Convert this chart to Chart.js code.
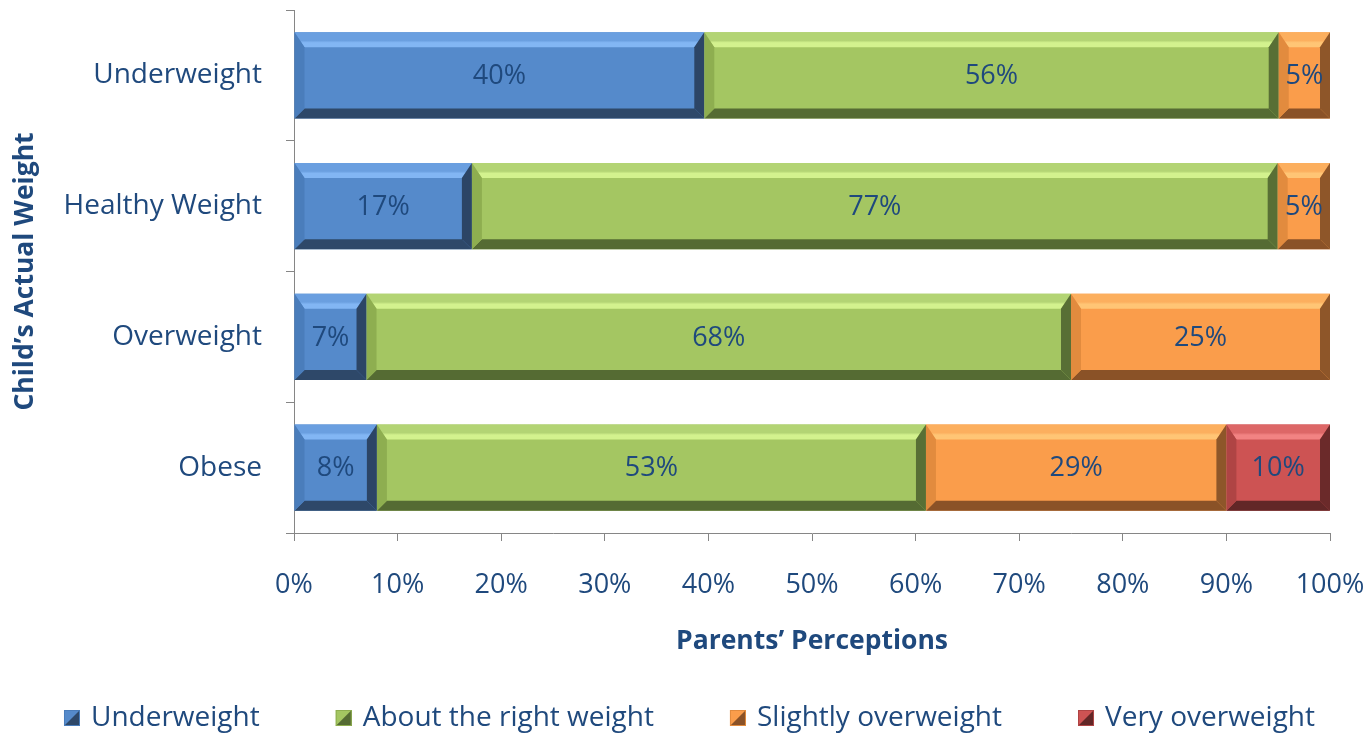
<!DOCTYPE html>
<html>
<head>
<meta charset="utf-8">
<script src="https://cdn.jsdelivr.net/npm/chart.js@4.4.1/dist/chart.umd.min.js"></script>
<style>
  html, body { margin: 0; padding: 0; background: #fff; }
</style>
</head>
<body>
<canvas id="chart_div" width="1371" height="735"></canvas>
<script>
// categories (child's actual weight) and series (parents' perception), in %
const categories = ['Underweight', 'Healthy Weight', 'Overweight', 'Obese'];
const seriesNames = ['Underweight', 'About the right weight', 'Slightly overweight', 'Very overweight'];
const underweight = [40, 17, 7, 8];
const rightWeight = [56, 77, 68, 53];
const slightlyOver = [5, 5, 25, 29];
const veryOver = [0, 0, 0, 10];
const tickLabels = ['0%', '10%', '20%', '30%', '40%', '50%', '60%', '70%', '80%', '90%', '100%'];

const TEXT = '#1F497D';
const AXIS = '#868686';

// bevel shades for each series
const shades = [
  { face: '#558ACB', top: '#6A9FE0', hi: '#82B6F4', bottom: '#2E4869', left: '#4A7DBB', right: '#2C4566' },
  { face: '#A4C662', top: '#B3D474', hi: '#D3F28E', bottom: '#556B33', left: '#8EAE50', right: '#586F35' },
  { face: '#FA9D4B', top: '#FCAF5E', hi: '#FFC575', bottom: '#8A5227', left: '#E28B3E', right: '#8E5629' },
  { face: '#CD5353', top: '#DD6767', hi: '#F28383', bottom: '#622727', left: '#AF4444', right: '#6B2A2A' }
];

const rawSeries = [underweight, rightWeight, slightlyOver, veryOver];
// 100% stacked: each row is scaled to its own total, labels keep the raw numbers
const totals = categories.map((c, i) => rawSeries.reduce((s, arr) => s + arr[i], 0));

function poly(ctx, pts, fill) {
  ctx.beginPath();
  ctx.moveTo(pts[0][0], pts[0][1]);
  for (let k = 1; k < pts.length; k++) ctx.lineTo(pts[k][0], pts[k][1]);
  ctx.closePath();
  ctx.fillStyle = fill;
  ctx.fill();
}

const bevelPlugin = {
  id: 'bevel',
  afterDatasetsDraw(chart) {
    const ctx = chart.ctx;
    ctx.save();
    chart.data.datasets.forEach((ds, di) => {
      const meta = chart.getDatasetMeta(di);
      const c = shades[di];
      meta.data.forEach((bar, i) => {
        if (!rawSeries[di][i]) return;
        const l = Math.min(bar.base, bar.x), r = Math.max(bar.base, bar.x);
        const t = bar.y - bar.height / 2, b = bar.y + bar.height / 2;
        const d = Math.min(10, (r - l) / 2), dt = Math.min(15, (r - l) / 2);
        const g = ctx.createLinearGradient(0, t, 0, t + dt);
        g.addColorStop(0, c.top);
        g.addColorStop(0.55, c.top);
        g.addColorStop(0.7, c.hi);
        g.addColorStop(1, c.hi);
        poly(ctx, [[l, t], [r, t], [r - d, t + dt], [l + d, t + dt]], g);
        poly(ctx, [[l, b], [r, b], [r - d, b - d], [l + d, b - d]], c.bottom);
        poly(ctx, [[l, t], [l + d, t + dt], [l + d, b - d], [l, b]], c.left);
        poly(ctx, [[r, t], [r - d, t + dt], [r - d, b - d], [r, b]], c.right);
      });
    });
    // value labels
    ctx.font = '27px "Open Sans"';
    ctx.fillStyle = TEXT;
    ctx.textAlign = 'center';
    ctx.textBaseline = 'middle';
    chart.data.datasets.forEach((ds, di) => {
      chart.getDatasetMeta(di).data.forEach((bar, i) => {
        const v = rawSeries[di][i];
        if (!v) return;
        ctx.fillText(v + '%', (bar.x + bar.base) / 2, bar.y + 1);
      });
    });
    ctx.restore();
  }
};

const legendPlugin = {
  id: 'bevelLegend',
  afterDraw(chart) {
    const ctx = chart.ctx;
    ctx.save();
    ctx.font = '28px "Open Sans"';
    ctx.textBaseline = 'middle';
    ctx.textAlign = 'left';
    const box = 16, gapText = 11, gapItem = 76;
    const widths = seriesNames.map(n => box + gapText + ctx.measureText(n).width);
    const total = widths.reduce((a, b) => a + b, 0) + gapItem * (widths.length - 1);
    let x = (chart.width - total) / 2 + 4;
    const y = chart.height - 17;
    seriesNames.forEach((name, i) => {
      const c = shades[i];
      const t = y - box / 2;
      ctx.fillStyle = c.face;
      ctx.fillRect(x, t, box, box);
      poly(ctx, [[x + box, t], [x + box, t + box], [x, t + box]], c.bottom);
      ctx.strokeStyle = c.left;
      ctx.lineWidth = 1;
      ctx.strokeRect(x + 0.5, t + 0.5, box - 1, box - 1);
      ctx.fillStyle = TEXT;
      ctx.fillText(name, x + box + gapText, y);
      x += widths[i] + gapItem;
    });
    ctx.restore();
  }
};

Chart.defaults.font.family = '"Open Sans"';
Chart.defaults.color = TEXT;

const ctx = document.getElementById('chart_div');
new Chart(ctx, {
  type: 'bar',
  data: {
    labels: categories,
    datasets: rawSeries.map((arr, di) => ({
      label: seriesNames[di],
      data: arr.map((v, i) => v / totals[i] * 100),
      backgroundColor: shades[di].face,
      borderWidth: 0,
      barPercentage: 0.66,
      categoryPercentage: 1
    }))
  },
  options: {
    indexAxis: 'y',
    responsive: false,
    animation: false,
    devicePixelRatio: 1,
    layout: { padding: { top: 10, right: 41, bottom: 70, left: 0 } },
    plugins: {
      legend: { display: false },
      tooltip: { enabled: false }
    },
    scales: {
      x: {
        stacked: true,
        min: 0,
        max: 100,
        border: { display: true, color: AXIS },
        grid: { drawOnChartArea: false, tickLength: 8, color: AXIS },
        ticks: {
          stepSize: 10,
          padding: 28,
          color: TEXT,
          font: { size: 27 },
          callback: (v, i) => tickLabels[i]
        },
        title: {
          display: true,
          text: 'Parents’ Perceptions',
          color: TEXT,
          font: { size: 26.5, weight: 'bold' },
          padding: { top: 0, bottom: 8 }
        },
        afterFit: s => { s.height = 132; s.paddingLeft = 0; s.paddingRight = 0; }
      },
      y: {
        stacked: true,
        border: { display: true, color: AXIS },
        grid: { drawOnChartArea: false, tickLength: 8, color: AXIS, offset: true },
        ticks: { padding: 24, color: TEXT, font: { size: 28 } },
        title: {
          display: true,
          text: 'Child’s Actual Weight',
          color: TEXT,
          font: { size: 26.5, weight: 'bold' },
          padding: { top: 10, bottom: 0 }
        },
        afterFit: s => { s.width = 294; s.paddingTop = 0; s.paddingBottom = 0; }
      }
    }
  },
  plugins: [bevelPlugin, legendPlugin]
});
</script>
</body>
</html>
